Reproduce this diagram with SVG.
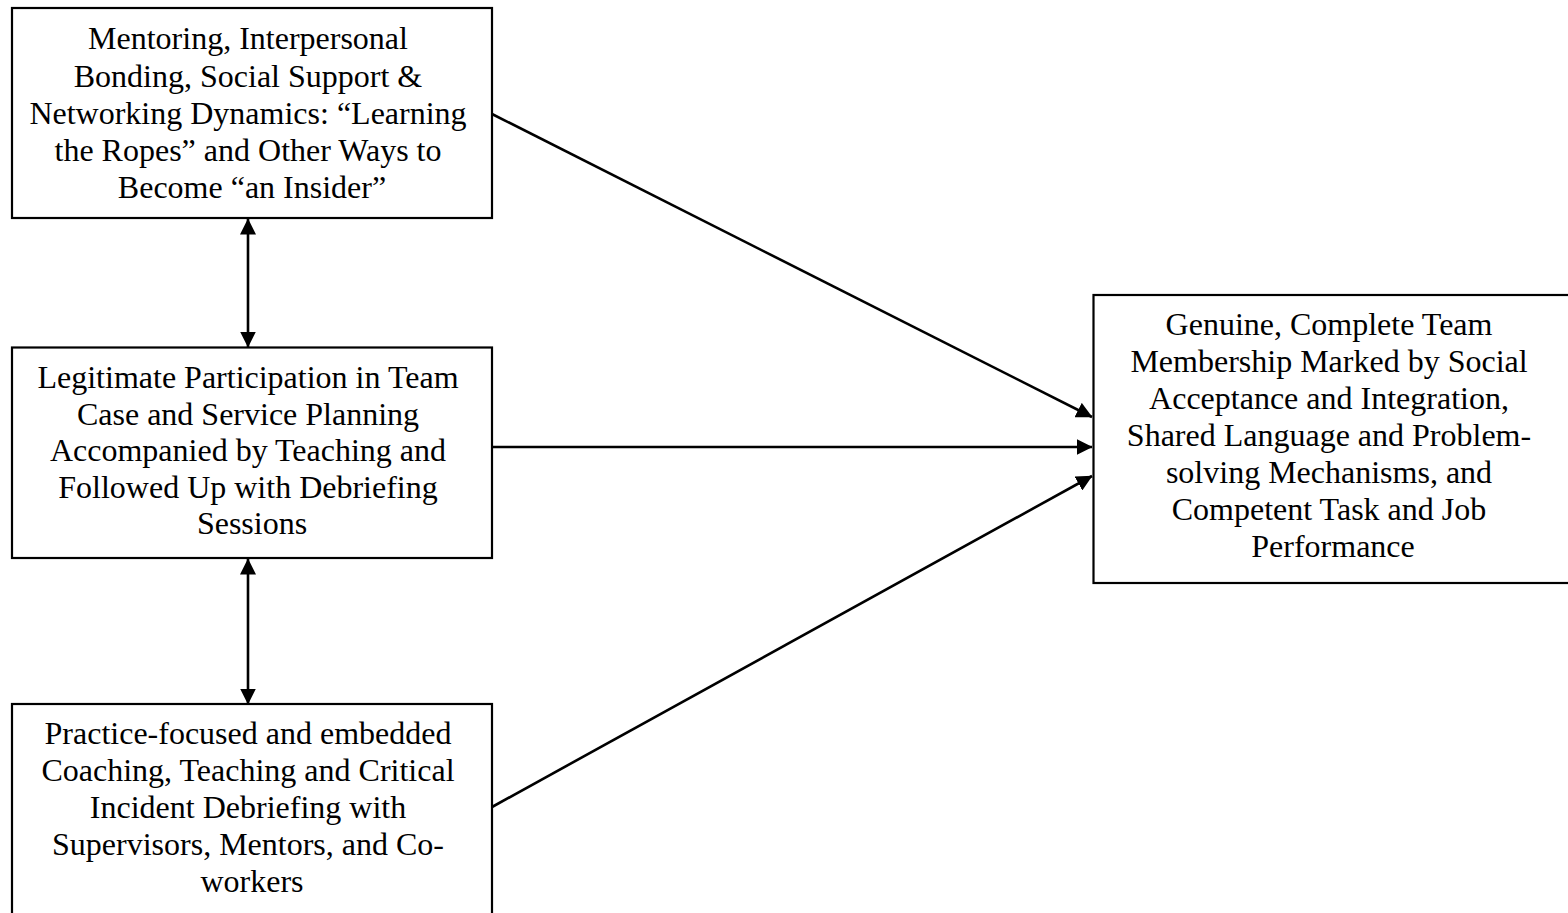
<svg xmlns="http://www.w3.org/2000/svg" width="1568" height="913" viewBox="0 0 1568 913">
  <style>
    .box { fill: #ffffff; stroke: #000000; stroke-width: 2.2; }
    .label { font-family: "Liberation Serif", "Times New Roman", serif; font-size: 32px; fill: #000000; text-anchor: middle; }
    .link { stroke: #000000; stroke-width: 2.6; fill: none; }
  </style>
  <defs>
    <marker id="head" viewBox="0 0 16 16" refX="15.5" refY="8" markerWidth="16" markerHeight="16" markerUnits="userSpaceOnUse" orient="auto-start-reverse">
      <path d="M0,0 L16,8 L0,16 Z" fill="#000000"/>
    </marker>
  </defs>
  <rect width="1568" height="913" fill="#ffffff"/>

  <!-- Connectors -->
  <g id="connectors">
    <line class="link" x1="492" y1="114" x2="1092" y2="417" marker-end="url(#head)"/>
    <line class="link" x1="492" y1="447" x2="1092" y2="447" marker-end="url(#head)"/>
    <line class="link" x1="492" y1="807" x2="1092" y2="476" marker-end="url(#head)"/>
    <line class="link" x1="248" y1="219" x2="248" y2="347" marker-start="url(#head)" marker-end="url(#head)"/>
    <line class="link" x1="248" y1="559" x2="248" y2="704" marker-start="url(#head)" marker-end="url(#head)"/>
  </g>

  <!-- Mentoring / bonding -->
  <g id="node-mentoring">
    <rect class="box" x="12" y="8" width="480" height="210"/>
    <text class="label" x="252">
      <tspan x="252" y="49">Mentoring, Interpersonal</tspan>
      <tspan x="252" y="86.5">Bonding, Social Support &amp;</tspan>
      <tspan x="252" y="124">Networking Dynamics: “Learning</tspan>
      <tspan x="252" y="161">the Ropes” and Other Ways to</tspan>
      <tspan x="252" y="197.5">Become “an Insider”</tspan>
    </text>
  </g>

  <!-- Legitimate participation -->
  <g id="node-participation">
    <rect class="box" x="12" y="347.5" width="480" height="210.5"/>
    <text class="label" x="252">
      <tspan x="252" y="388">Legitimate Participation in Team</tspan>
      <tspan x="252" y="424.5">Case and Service Planning</tspan>
      <tspan x="252" y="461">Accompanied by Teaching and</tspan>
      <tspan x="252" y="497.5">Followed Up with Debriefing</tspan>
      <tspan x="252" y="534">Sessions</tspan>
    </text>
  </g>

  <!-- Practice-focused coaching -->
  <g id="node-coaching">
    <rect class="box" x="12" y="704" width="480" height="230"/>
    <text class="label" x="252">
      <tspan x="252" y="743.5">Practice-focused and embedded</tspan>
      <tspan x="252" y="780.5">Coaching, Teaching and Critical</tspan>
      <tspan x="252" y="817.5">Incident Debriefing with</tspan>
      <tspan x="252" y="854.5">Supervisors, Mentors, and Co-</tspan>
      <tspan x="252" y="891.5">workers</tspan>
    </text>
  </g>

  <!-- Outcome: team membership -->
  <g id="node-membership">
    <rect class="box" x="1093.5" y="295" width="490" height="288"/>
    <text class="label" x="1333">
      <tspan x="1333" y="335">Genuine, Complete Team</tspan>
      <tspan x="1333" y="372">Membership Marked by Social</tspan>
      <tspan x="1333" y="409">Acceptance and Integration,</tspan>
      <tspan x="1333" y="446">Shared Language and Problem-</tspan>
      <tspan x="1333" y="483">solving Mechanisms, and</tspan>
      <tspan x="1333" y="520">Competent Task and Job</tspan>
      <tspan x="1333" y="557">Performance</tspan>
    </text>
  </g>
</svg>
